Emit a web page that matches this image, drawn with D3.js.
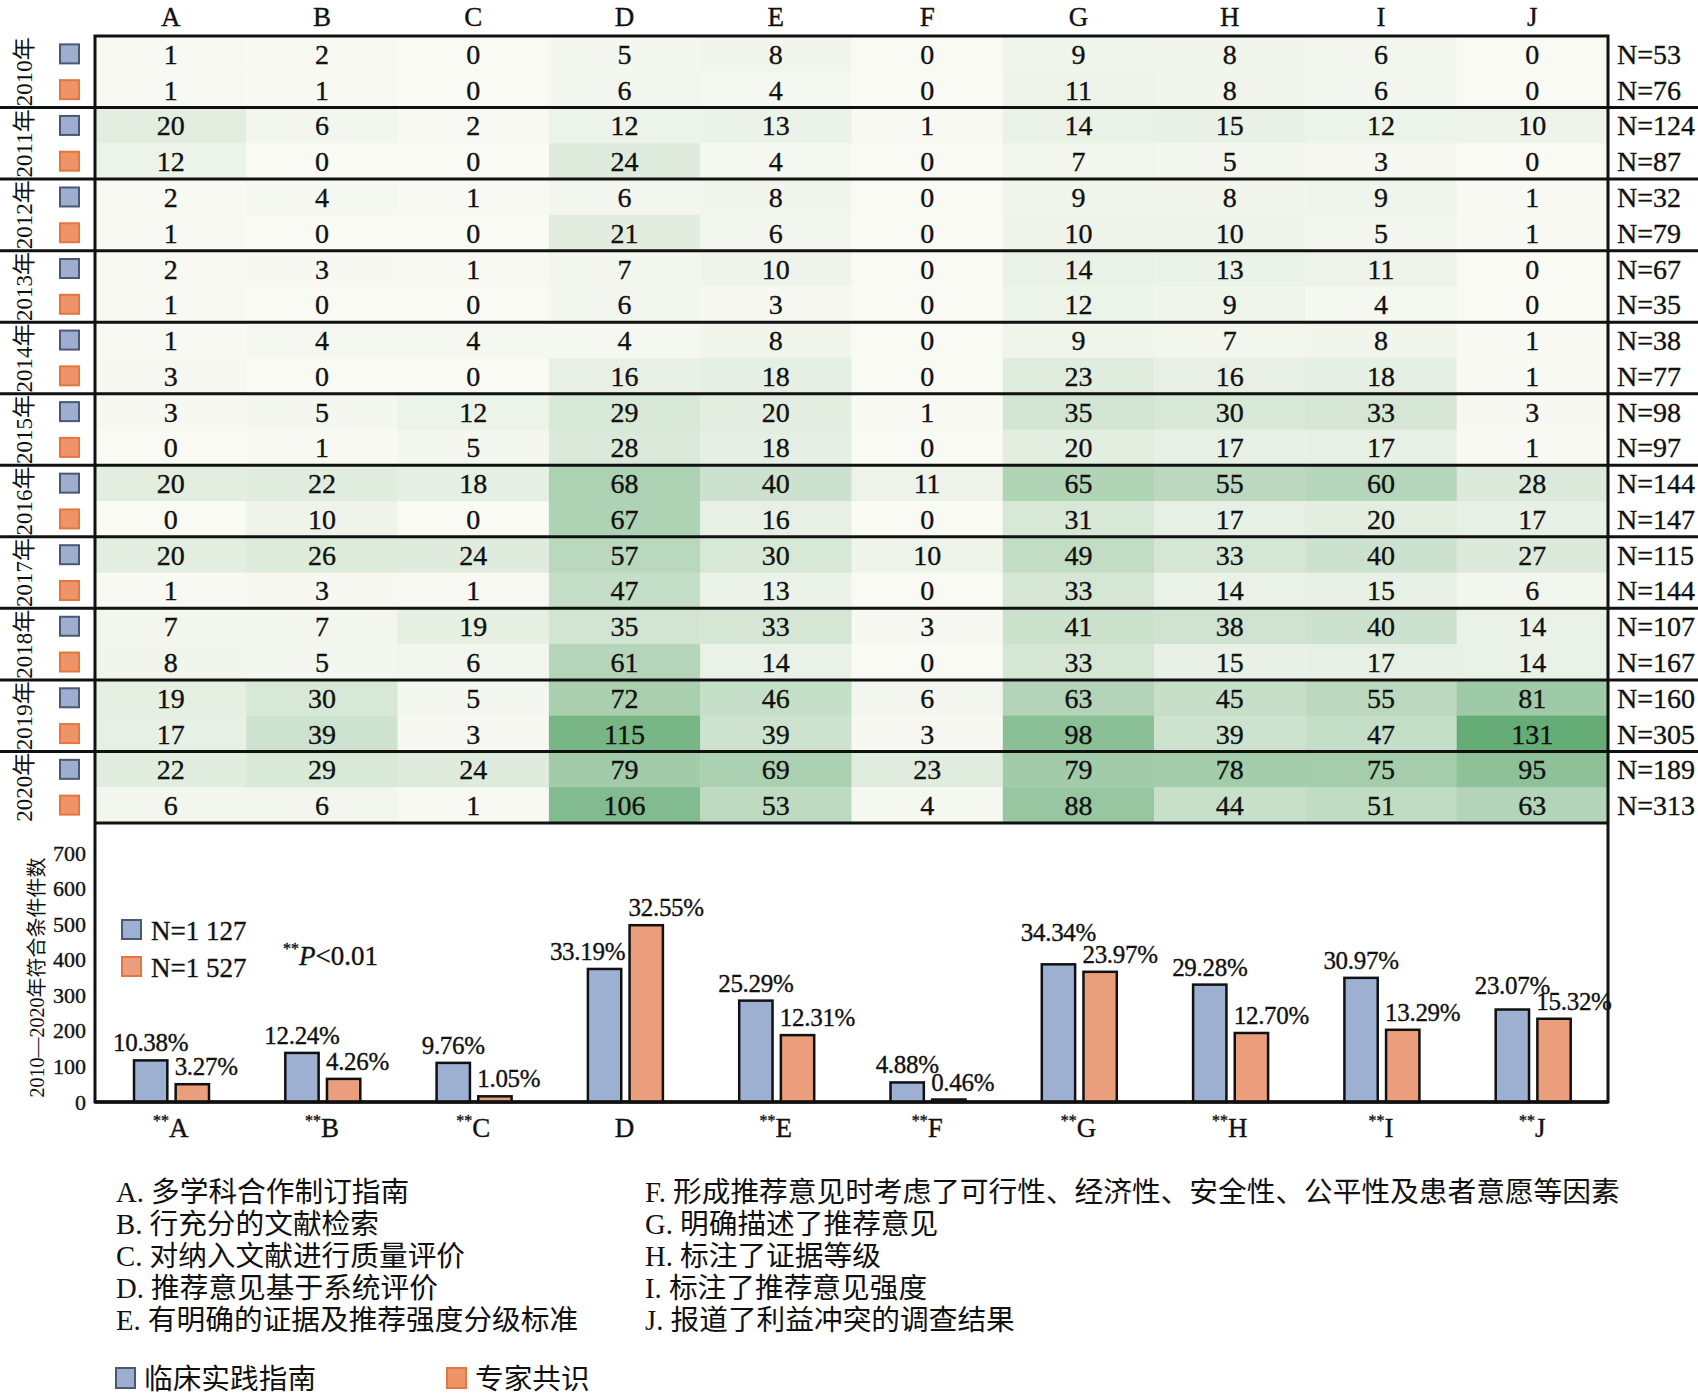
<!DOCTYPE html>
<html>
<head>
<meta charset="utf-8">
<script src="https://cdn.jsdelivr.net/npm/d3@7"></script>
<style>
  body { margin: 0; background: #fff; }
  svg { display: block; }
  .num { font-family: "Liberation Serif", "Times New Roman", serif; fill: #111; stroke: #111; stroke-width: 0.35; }
  .cjk { font-family: "Liberation Serif", "Noto Sans CJK SC", serif; fill: #111; }
</style>
</head>
<body>
<script>
// criteria
var cats = ["A", "B", "C", "D", "E", "F", "G", "H", "I", "J"];
var years = ["2010年", "2011年", "2012年", "2013年", "2014年", "2015年", "2016年", "2017年", "2018年", "2019年", "2020年"];

// yearly counts: guidelines (blue) and consensus (orange)
var guideRows = [
  [1, 2, 0, 5, 8, 0, 9, 8, 6, 0],
  [20, 6, 2, 12, 13, 1, 14, 15, 12, 10],
  [2, 4, 1, 6, 8, 0, 9, 8, 9, 1],
  [2, 3, 1, 7, 10, 0, 14, 13, 11, 0],
  [1, 4, 4, 4, 8, 0, 9, 7, 8, 1],
  [3, 5, 12, 29, 20, 1, 35, 30, 33, 3],
  [20, 22, 18, 68, 40, 11, 65, 55, 60, 28],
  [20, 26, 24, 57, 30, 10, 49, 33, 40, 27],
  [7, 7, 19, 35, 33, 3, 41, 38, 40, 14],
  [19, 30, 5, 72, 46, 6, 63, 45, 55, 81],
  [22, 29, 24, 79, 69, 23, 79, 78, 75, 95]
];
var consRows = [
  [1, 1, 0, 6, 4, 0, 11, 8, 6, 0],
  [12, 0, 0, 24, 4, 0, 7, 5, 3, 0],
  [1, 0, 0, 21, 6, 0, 10, 10, 5, 1],
  [1, 0, 0, 6, 3, 0, 12, 9, 4, 0],
  [3, 0, 0, 16, 18, 0, 23, 16, 18, 1],
  [0, 1, 5, 28, 18, 0, 20, 17, 17, 1],
  [0, 10, 0, 67, 16, 0, 31, 17, 20, 17],
  [1, 3, 1, 47, 13, 0, 33, 14, 15, 6],
  [8, 5, 6, 61, 14, 0, 33, 15, 17, 14],
  [17, 39, 3, 115, 39, 3, 98, 39, 47, 131],
  [6, 6, 1, 106, 53, 4, 88, 44, 51, 63]
];
var guideN = [53, 124, 32, 67, 38, 98, 144, 115, 107, 160, 189];
var consN = [76, 87, 79, 35, 77, 97, 147, 144, 167, 305, 313];

// 2010-2020 totals
var guideTotal = [117, 138, 110, 374, 285, 55, 387, 330, 349, 260];
var consTotal = [50, 65, 16, 497, 188, 7, 366, 194, 203, 234];
var guidePct = ["10.38%", "12.24%", "9.76%", "33.19%", "25.29%", "4.88%", "34.34%", "29.28%", "30.97%", "23.07%"];
var consPct = ["3.27%", "4.26%", "1.05%", "32.55%", "12.31%", "0.46%", "23.97%", "12.70%", "13.29%", "15.32%"];
var signif = [true, true, true, false, true, true, true, true, true, true];
var yTicks = [0, 100, 200, 300, 400, 500, 600, 700];

var notesLeft = ["A. 多学科合作制订指南", "B. 行充分的文献检索", "C. 对纳入文献进行质量评价", "D. 推荐意见基于系统评价", "E. 有明确的证据及推荐强度分级标准"];
var notesRight = ["F. 形成推荐意见时考虑了可行性、经济性、安全性、公平性及患者意愿等因素", "G. 明确描述了推荐意见", "H. 标注了证据等级", "I. 标注了推荐意见强度", "J. 报道了利益冲突的调查结果"];

var width = 1698, height = 1396;
var left = 95, right = 1608, tableTop = 36, tableBottom = 823, base = 1102;
var blueFill = "#9db0d2", orangeFill = "#eb9e7c";

var svg = d3.select("body").append("svg")
    .attr("width", width)
    .attr("height", height);

var x = d3.scaleBand().domain(cats).range([left, right]);
var rowIds = d3.range(years.length * 2);
var yRow = d3.scaleBand().domain(rowIds).range([tableTop, tableBottom]);
var heat = d3.scaleLinear().domain([0, 131]).range(["#fafaf4", "#66ac77"]);

// flatten table rows
var cells = [];
years.forEach(function(yr, i){
    cats.forEach(function(c, j){
        cells.push({row: i * 2, cat: c, v: guideRows[i][j]});
        cells.push({row: i * 2 + 1, cat: c, v: consRows[i][j]});
    });
});

svg.selectAll(".cell")
    .data(cells)
    .enter()
    .append("rect")
    .attr("class", "cell")
    .attr("x", function(d){ return x(d.cat); })
    .attr("y", function(d){ return yRow(d.row); })
    .attr("width", x.bandwidth() + 0.5)
    .attr("height", yRow.bandwidth() + 0.5)
    .attr("fill", function(d){ return heat(d.v); });

svg.selectAll(".cellText")
    .data(cells)
    .enter()
    .append("text")
    .attr("class", "num")
    .attr("x", function(d){ return x(d.cat) + x.bandwidth() / 2; })
    .attr("y", function(d){ return yRow(d.row) + yRow.bandwidth() / 2 + 10; })
    .attr("text-anchor", "middle")
    .attr("font-size", 28)
    .text(function(d){ return d.v; });

// column header
svg.selectAll(".colHead")
    .data(cats)
    .enter()
    .append("text")
    .attr("class", "num")
    .attr("x", function(d){ return x(d) + x.bandwidth() / 2; })
    .attr("y", 26)
    .attr("text-anchor", "middle")
    .attr("font-size", 27)
    .text(function(d){ return d; });

// N labels
var nLabels = [];
years.forEach(function(yr, i){
    nLabels.push({row: i * 2, n: guideN[i]});
    nLabels.push({row: i * 2 + 1, n: consN[i]});
});
svg.selectAll(".nText")
    .data(nLabels)
    .enter()
    .append("text")
    .attr("class", "num")
    .attr("x", right + 9)
    .attr("y", function(d){ return yRow(d.row) + yRow.bandwidth() / 2 + 10; })
    .attr("font-size", 28)
    .text(function(d){ return "N=" + d.n; });

// year labels and little squares
var yg = svg.selectAll(".year")
    .data(years)
    .enter()
    .append("g");
yg.append("text")
    .attr("class", "cjk")
    .attr("transform", function(d, i){
        return "translate(32," + (yRow(i * 2) + yRow.bandwidth()) + ") rotate(-90)";
    })
    .attr("text-anchor", "middle")
    .attr("font-size", 23)
    .text(function(d){ return d; });
yg.append("rect")
    .attr("x", 60)
    .attr("y", function(d, i){ return yRow(i * 2) + yRow.bandwidth() / 2 - 9.5; })
    .attr("width", 19).attr("height", 19)
    .attr("fill", "#9eaed0").attr("stroke", "#4a5874").attr("stroke-width", 2);
yg.append("rect")
    .attr("x", 60)
    .attr("y", function(d, i){ return yRow(i * 2 + 1) + yRow.bandwidth() / 2 - 9.5; })
    .attr("width", 19).attr("height", 19)
    .attr("fill", "#ef9368").attr("stroke", "#e2773f").attr("stroke-width", 2);

// year separators
svg.selectAll(".sep")
    .data(d3.range(1, years.length))
    .enter()
    .append("line")
    .attr("x1", 0).attr("x2", width)
    .attr("y1", function(d){ return yRow(d * 2); })
    .attr("y2", function(d){ return yRow(d * 2); })
    .attr("stroke", "#111").attr("stroke-width", 3);

// frame
svg.append("path")
    .attr("d", "M" + left + "," + base + "V" + tableTop + "H" + right + "V" + base + "Z")
    .attr("fill", "none").attr("stroke", "#111").attr("stroke-width", 3);
svg.append("line")
    .attr("x1", left).attr("x2", right)
    .attr("y1", tableBottom).attr("y2", tableBottom)
    .attr("stroke", "#111").attr("stroke-width", 3);

// bar chart
var y = d3.scaleLinear().domain([0, 700]).range([base, 853]);
var sub = d3.scaleBand().domain(["g", "c"]).range([39, 114]).paddingInner(0.2);

var yAxis = svg.append("g")
    .attr("transform", "translate(" + left + ",0)")
    .call(d3.axisLeft(y).tickValues(yTicks).tickSize(0).tickPadding(9));
yAxis.select(".domain").remove();
yAxis.selectAll("text")
    .attr("class", "num")
    .attr("font-size", 22)
    .attr("font-family", "Liberation Serif, serif")
    .attr("fill", "#111");

svg.append("text")
    .attr("class", "cjk")
    .attr("transform", "translate(44," + ((base + 853) / 2) + ") rotate(-90)")
    .attr("text-anchor", "middle")
    .attr("font-size", 20)
    .text("2010—2020年符合条件件数");

var bars = [];
cats.forEach(function(c, j){
    bars.push({cat: c, s: "g", v: guideTotal[j], pct: guidePct[j]});
    bars.push({cat: c, s: "c", v: consTotal[j], pct: consPct[j]});
});

svg.selectAll(".bar")
    .data(bars)
    .enter()
    .append("rect")
    .attr("x", function(d){ return x(d.cat) + sub(d.s); })
    .attr("y", function(d){ return y(d.v); })
    .attr("width", sub.bandwidth())
    .attr("height", function(d){ return base - y(d.v); })
    .attr("fill", function(d){ return d.s === "g" ? blueFill : orangeFill; })
    .attr("stroke", "#111").attr("stroke-width", 2.5);

// blue labels nudged where they would hit the orange label
var labelShift = {D: -17};
var labelRaise = {G: 14, J: 7};
svg.selectAll(".pct")
    .data(bars)
    .enter()
    .append("text")
    .attr("class", "num")
    .attr("x", function(d){
        if (d.s === "c") return x(d.cat) + sub(d.s) - 1;
        return x(d.cat) + sub(d.s) + sub.bandwidth() / 2 + (labelShift[d.cat] || 0);
    })
    .attr("y", function(d){
        return y(d.v) - 9 - (d.s === "g" ? (labelRaise[d.cat] || 0) : 0);
    })
    .attr("text-anchor", function(d){ return d.s === "c" ? "start" : "middle"; })
    .attr("font-size", 25)
    .attr("letter-spacing", -0.3)
    .text(function(d){ return d.pct; });

svg.append("line")
    .attr("x1", left).attr("x2", right)
    .attr("y1", base).attr("y2", base)
    .attr("stroke", "#111").attr("stroke-width", 3.5);

// x labels
var xl = svg.selectAll(".xlab")
    .data(cats)
    .enter()
    .append("text")
    .attr("class", "num")
    .attr("x", function(d){ return x(d) + x.bandwidth() / 2; })
    .attr("y", 1137)
    .attr("text-anchor", "middle")
    .attr("font-size", 27);
xl.each(function(d, j){
    var t = d3.select(this);
    if (signif[j]) {
        t.append("tspan").attr("font-size", 16).attr("dy", -11).text("**");
        t.append("tspan").attr("dy", 11).text(d);
    } else {
        t.text(d);
    }
});

// inner legend
var legN = [{t: "N=1 127", c: blueFill}, {t: "N=1 527", c: orangeFill}];
svg.selectAll(".legN")
    .data(legN)
    .enter()
    .append("rect")
    .attr("x", 122)
    .attr("y", function(d, i){ return 920 + i * 37; })
    .attr("width", 19).attr("height", 19)
    .attr("fill", function(d){ return d.c; })
    .attr("stroke", function(d, i){ return i === 0 ? "#4a5874" : "#e2773f"; })
    .attr("stroke-width", 2);
svg.selectAll(".legNt")
    .data(legN)
    .enter()
    .append("text")
    .attr("class", "num")
    .attr("x", 151)
    .attr("y", function(d, i){ return 940 + i * 37; })
    .attr("font-size", 27)
    .text(function(d){ return d.t; });

var pt = svg.append("text")
    .attr("class", "num")
    .attr("x", 283)
    .attr("y", 965)
    .attr("font-size", 27);
pt.append("tspan").attr("font-size", 16).attr("dy", -11).text("**");
pt.append("tspan").attr("dy", 11).attr("font-style", "italic").text("P");
pt.append("tspan").text("<0.01");

// criteria notes
svg.selectAll(".noteL")
    .data(notesLeft)
    .enter()
    .append("text")
    .attr("class", "cjk")
    .attr("x", 116)
    .attr("y", function(d, i){ return 1202 + i * 32; })
    .attr("font-size", 28.7)
    .text(function(d){ return d; });
svg.selectAll(".noteR")
    .data(notesRight)
    .enter()
    .append("text")
    .attr("class", "cjk")
    .attr("x", 645)
    .attr("y", function(d, i){ return 1202 + i * 32; })
    .attr("font-size", 28.7)
    .text(function(d){ return d; });

// bottom legend
var legB = [{t: "临床实践指南", c: "#9eaed0", s: "#4a5874", x: 116},
            {t: "专家共识", c: "#ef9368", s: "#e2773f", x: 447}];
svg.selectAll(".legB")
    .data(legB)
    .enter()
    .append("rect")
    .attr("x", function(d){ return d.x; })
    .attr("y", 1368)
    .attr("width", 19).attr("height", 20)
    .attr("fill", function(d){ return d.c; })
    .attr("stroke", function(d){ return d.s; })
    .attr("stroke-width", 2);
svg.selectAll(".legBt")
    .data(legB)
    .enter()
    .append("text")
    .attr("class", "cjk")
    .attr("x", function(d){ return d.x + 28; })
    .attr("y", 1389)
    .attr("font-size", 28.7)
    .text(function(d){ return d.t; });
</script>
</body>
</html>
